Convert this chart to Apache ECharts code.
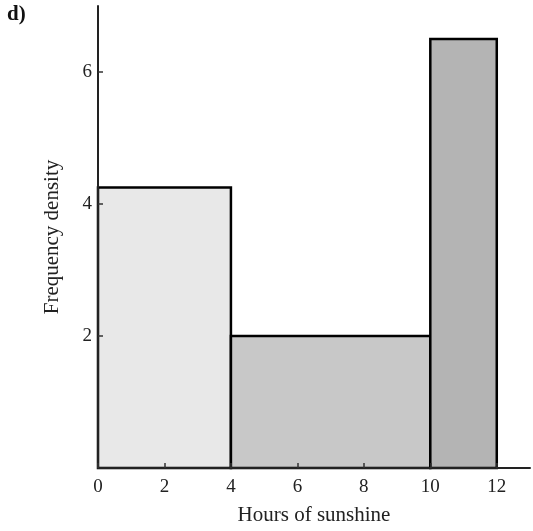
<!DOCTYPE html>
<html>
<head>
<meta charset="utf-8">
<script src="https://cdn.jsdelivr.net/npm/echarts@6/dist/echarts.min.js"></script>
<style>
html,body{margin:0;padding:0;background:#fff;}
#c{width:533px;height:531px;}
</style>
</head>
<body>
<div id="c"></div>
<script>
// Histogram data
var binStarts = [0, 4, 10];
var binEnds = [4, 10, 12];
var densities = [4.25, 2, 6.5];
var barColors = ['#e8e8e8', '#c8c8c8', '#b4b4b4'];
var xTickLabels = [0, 2, 4, 6, 8, 10, 12];
var yTickLabels = [2, 4, 6];

var data = binStarts.map(function (s, i) { return [s, binEnds[i], densities[i], i]; });

var chart = echarts.init(document.getElementById('c'));
var font = 'Liberation Serif';
chart.setOption({
  animation: false,
  backgroundColor: '#fff',
  title: {
    text: 'd)', left: 7, top: 4, padding: 0,
    textStyle: { fontFamily: font, fontWeight: 'bold', fontSize: 21, color: '#111' }
  },
  grid: { left: 98, right: 3, top: 6, bottom: 60 },
  xAxis: {
    type: 'value', min: 0, max: 13, interval: 1, z: 10,
    name: 'Hours of sunshine', nameLocation: 'middle', nameGap: 37,
    nameTextStyle: { fontFamily: font, fontSize: 21, color: '#222' },
    axisLine: { show: true, lineStyle: { color: '#222', width: 2 } },
    axisTick: { show: true, inside: true, length: 5, lineStyle: { color: '#333', width: 1.5 }, customValues: xTickLabels },
    axisLabel: { fontFamily: font, fontSize: 19, color: '#222', margin: 10, customValues: xTickLabels },
    splitLine: { show: false }
  },
  yAxis: {
    type: 'value', min: 0, max: 7, interval: 1, z: 10,
    name: 'Frequency density', nameLocation: 'middle', nameGap: 35,
    nameTextStyle: { fontFamily: font, fontSize: 21, color: '#222' },
    axisLine: { show: true, lineStyle: { color: '#222', width: 2 } },
    axisTick: { show: true, inside: true, length: 5, lineStyle: { color: '#333', width: 1.5 }, customValues: yTickLabels },
    axisLabel: { fontFamily: font, fontSize: 19, color: '#222', margin: 6, customValues: yTickLabels },
    splitLine: { show: false }
  },
  series: [{
    type: 'custom',
    z: 2,
    data: data,
    encode: { x: [0, 1], y: 2 },
    renderItem: function (params, api) {
      var p0 = api.coord([api.value(0), api.value(2)]);
      var p1 = api.coord([api.value(1), 0]);
      return {
        type: 'rect',
        shape: { x: p0[0], y: p0[1], width: p1[0] - p0[0], height: p1[1] - p0[1] },
        style: { fill: barColors[api.value(3)], stroke: '#000', lineWidth: 2.5 }
      };
    }
  }]
});
</script>
</body>
</html>
